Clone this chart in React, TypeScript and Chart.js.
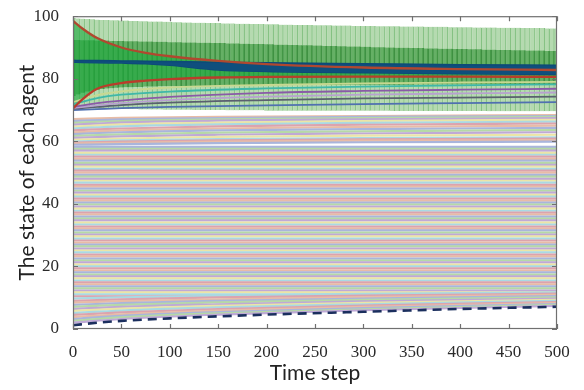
import { useEffect, useRef } from "react";
import { Chart, registerables } from "chart.js";

Chart.register(...registerables);

// ---------- axis ticks ----------
const xTicks = [0, 50, 100, 150, 200, 250, 300, 350, 400, 450, 500];
const yTicks = [0, 20, 40, 60, 80, 100];

// ---------- box plots of the upper group (one box every 5 time steps) ----------
const boxSteps = [
  0, 5, 10, 15, 20, 25, 30, 35, 40, 45, 50, 55, 60, 65, 70, 75, 80, 85, 90, 95, 100,
  105, 110, 115, 120, 125, 130, 135, 140, 145, 150, 155, 160, 165, 170, 175, 180, 185, 190, 195, 200,
  205, 210, 215, 220, 225, 230, 235, 240, 245, 250, 255, 260, 265, 270, 275, 280, 285, 290, 295, 300,
  305, 310, 315, 320, 325, 330, 335, 340, 345, 350, 355, 360, 365, 370, 375, 380, 385, 390, 395, 400,
  405, 410, 415, 420, 425, 430, 435, 440, 445, 450, 455, 460, 465, 470, 475, 480, 485, 490, 495, 500,
];
const whiskerHigh = [
  99.4, 99.3, 99.2, 99.1, 99.0, 98.9, 98.8, 98.8, 98.7, 98.7, 98.6, 98.6, 98.5, 98.5, 98.4, 98.4, 98.3, 98.3, 98.3, 98.2, 98.2,
  98.1, 98.1, 98.0, 98.0, 97.9, 97.9, 97.9, 97.8, 97.8, 97.8, 97.7, 97.7, 97.7, 97.6, 97.6, 97.6, 97.5, 97.5, 97.5, 97.4,
  97.4, 97.4, 97.3, 97.3, 97.3, 97.2, 97.2, 97.2, 97.2, 97.1, 97.1, 97.1, 97.1, 97.0, 97.0, 97.0, 97.0, 96.9, 96.9, 96.9,
  96.9, 96.9, 96.8, 96.8, 96.8, 96.8, 96.8, 96.7, 96.7, 96.7, 96.7, 96.7, 96.6, 96.6, 96.6, 96.6, 96.6, 96.5, 96.5, 96.5,
  96.5, 96.5, 96.4, 96.4, 96.4, 96.4, 96.4, 96.3, 96.3, 96.3, 96.3, 96.3, 96.2, 96.2, 96.2, 96.2, 96.2, 96.1, 96.1, 96.1,
];
const boxQ3 = [
  92.4, 92.4, 92.3, 92.3, 92.3, 92.2, 92.2, 92.2, 92.1, 92.1, 92.1, 92.0, 92.0, 92.0, 91.9, 91.9, 91.9, 91.8, 91.8, 91.8, 91.7,
  91.7, 91.7, 91.6, 91.6, 91.6, 91.5, 91.5, 91.5, 91.4, 91.4, 91.4, 91.3, 91.3, 91.3, 91.2, 91.2, 91.1, 91.1, 91.1, 91.0,
  91.0, 90.9, 90.9, 90.9, 90.8, 90.8, 90.7, 90.7, 90.7, 90.6, 90.6, 90.5, 90.5, 90.5, 90.4, 90.4, 90.3, 90.3, 90.3, 90.2,
  90.2, 90.1, 90.1, 90.1, 90.0, 90.0, 89.9, 89.9, 89.9, 89.8, 89.8, 89.8, 89.7, 89.7, 89.7, 89.6, 89.6, 89.6, 89.5, 89.5,
  89.5, 89.4, 89.4, 89.4, 89.3, 89.3, 89.3, 89.2, 89.2, 89.2, 89.1, 89.1, 89.1, 89.0, 89.0, 89.0, 89.0, 88.9, 88.9, 88.9,
];
const boxQ1 = [
  74.5, 75.0, 75.5, 75.9, 76.2, 76.5, 76.7, 76.9, 77.0, 77.1, 77.2, 77.3, 77.3, 77.4, 77.4, 77.5, 77.5, 77.5, 77.6, 77.6, 77.6,
  77.6, 77.6, 77.7, 77.7, 77.7, 77.7, 77.7, 77.7, 77.8, 77.8, 77.8, 77.8, 77.8, 77.8, 77.8, 77.8, 77.9, 77.9, 77.9, 77.9,
  77.9, 77.9, 77.9, 77.9, 78.0, 78.0, 78.0, 78.0, 78.0, 78.0, 78.0, 78.0, 78.0, 78.0, 78.0, 78.1, 78.1, 78.1, 78.1, 78.1,
  78.1, 78.1, 78.1, 78.1, 78.1, 78.1, 78.1, 78.1, 78.1, 78.1, 78.2, 78.2, 78.2, 78.2, 78.2, 78.2, 78.2, 78.2, 78.2, 78.2,
  78.2, 78.2, 78.2, 78.2, 78.2, 78.2, 78.2, 78.2, 78.2, 78.2, 78.3, 78.3, 78.3, 78.3, 78.3, 78.3, 78.3, 78.3, 78.3, 78.3,
];
const whiskerLow = [
  70.6, 70.6, 70.5, 70.5, 70.5, 70.4, 70.4, 70.4, 70.4, 70.3, 70.3, 70.3, 70.3, 70.3, 70.2, 70.2, 70.2, 70.2, 70.2, 70.1, 70.1,
  70.1, 70.1, 70.1, 70.1, 70.0, 70.0, 70.0, 70.0, 70.0, 70.0, 70.0, 69.9, 69.9, 69.9, 69.9, 69.9, 69.9, 69.9, 69.9, 69.8,
  69.8, 69.8, 69.8, 69.8, 69.8, 69.8, 69.8, 69.8, 69.8, 69.8, 69.8, 69.8, 69.8, 69.8, 69.8, 69.8, 69.8, 69.8, 69.8, 69.8,
  69.8, 69.8, 69.8, 69.8, 69.8, 69.7, 69.7, 69.7, 69.7, 69.7, 69.7, 69.7, 69.7, 69.7, 69.7, 69.7, 69.7, 69.7, 69.7, 69.7,
  69.7, 69.7, 69.7, 69.7, 69.7, 69.6, 69.6, 69.6, 69.6, 69.6, 69.6, 69.6, 69.6, 69.6, 69.6, 69.6, 69.6, 69.6, 69.6, 69.6,
];

// ---------- converging core of the upper group ----------
const coreSteps = [0, 10, 25, 50, 75, 100, 150, 200, 300, 400, 500];
const redUpper = [98.5, 96.0, 93.0, 90.0, 88.3, 87.2, 85.7, 84.7, 83.6, 83.1, 82.8];
const redLower = [70.5, 73.5, 76.8, 78.6, 79.4, 79.9, 80.4, 80.6, 80.7, 80.7, 80.6];
const blueTop = [85.9, 85.8, 85.8, 85.7, 85.6, 85.5, 85.3, 85.1, 84.8, 84.5, 84.3];
const blueBottom = [85.3, 85.2, 85.1, 85.0, 84.8, 84.3, 82.8, 82.3, 81.9, 81.6, 81.4];

// agents of the upper group visible through the boxes
const upperSteps = [0, 25, 50, 100, 200, 300, 400, 500];
const upperAgents = [
  [72.5, 74.8, 76.0, 77.2, 78.0, 78.5, 78.8, 79.0],
  [71.8, 73.8, 74.9, 75.9, 76.9, 77.5, 77.9, 78.2],
  [71.0, 72.2, 73.0, 74.2, 75.5, 76.1, 76.5, 76.8],
  [70.6, 71.5, 72.2, 73.2, 74.3, 74.9, 75.3, 75.6],
  [70.4, 71.0, 71.6, 72.4, 73.2, 73.7, 74.0, 74.3],
  [70.0, 70.3, 70.6, 71.0, 71.5, 71.9, 72.2, 72.5],
];

// ---------- lower group of agents ----------
const fanSteps = [0, 50, 150, 300, 500];
const lowFanAgents = [
  [2.0, 3.2, 4.6, 6.0, 7.4],
  [2.6, 3.7, 5.0, 6.3, 7.7],
  [3.2, 4.2, 5.4, 6.7, 8.0],
  [3.8, 4.7, 5.9, 7.1, 8.3],
  [4.5, 5.3, 6.4, 7.5, 8.6],
  [5.1, 5.9, 6.9, 7.9, 9.0],
  [5.8, 6.5, 7.4, 8.4, 9.3],
  [6.4, 7.1, 7.9, 8.8, 9.7],
  [7.1, 7.7, 8.5, 9.3, 10.1],
  [7.7, 8.3, 9.0, 9.7, 10.5],
  [8.4, 8.9, 9.5, 10.2, 10.9],
  [9.0, 9.5, 10.1, 10.7, 11.3],
  [9.7, 10.1, 10.6, 11.2, 11.7],
];
const highFanAgents = [
  [58.9, 59.1, 59.4, 59.7, 59.9],
  [59.3, 59.5, 59.9, 60.2, 60.4],
  [59.6, 59.9, 60.3, 60.6, 60.9],
  [59.9, 60.3, 60.7, 61.0, 61.3],
  [60.5, 60.9, 61.4, 61.8, 62.1],
  [61.1, 61.6, 62.1, 62.5, 62.9],
  [61.7, 62.2, 62.8, 63.2, 63.6],
  [62.3, 62.9, 63.5, 63.9, 64.3],
  [62.9, 63.5, 64.1, 64.6, 65.0],
  [63.5, 64.1, 64.8, 65.3, 65.7],
  [64.1, 64.8, 65.4, 65.9, 66.3],
  [64.7, 65.4, 66.0, 66.5, 66.9],
  [65.3, 66.0, 66.6, 67.0, 67.4],
  [65.9, 66.5, 67.0, 67.4, 67.8],
  [66.5, 67.0, 67.4, 67.8, 68.1],
  [67.1, 67.5, 67.8, 68.1, 68.4],
];
const flatAgents = [
  10.4, 11.1, 11.7, 12.3, 13.0, 13.6, 14.3, 14.9, 15.5, 16.2, 16.8, 17.4, 18.1, 18.7, 19.4, 20.0,
  20.6, 21.3, 21.9, 22.5, 23.2, 23.8, 24.5, 25.1, 25.7, 26.4, 27.0, 27.6, 28.3, 28.9, 29.6, 30.2,
  30.8, 31.5, 32.1, 32.7, 33.4, 34.0, 34.7, 35.3, 35.9, 36.6, 37.2, 37.8, 38.5, 39.1, 39.8, 40.4,
  41.0, 41.7, 42.3, 42.9, 43.6, 44.2, 44.9, 45.5, 46.1, 46.8, 47.4, 48.0, 48.7, 49.3, 50.0, 50.6,
  51.2, 51.9, 52.5, 53.1, 53.8, 54.4, 55.1, 55.7, 56.3, 57.0, 57.6, 58.2,
];
const flatSpan = [0, 500];
const lowestSteps = [0, 25, 50, 100, 200, 300, 400, 500];
const lowestAgent = [1.2, 2.0, 2.6, 3.4, 4.6, 5.5, 6.4, 7.1];

// ---------- styles ----------
const pastel = ["#dca3ae", "#a9d9e3", "#ebe5a6", "#bfa9d6", "#b6d9a6", "#a9b5dc", "#e8bca6"];
const upperColors = ["#c8d890", "#3fb8a8", "#8a5aa8", "#b8a0d0", "#5a6070", "#5070b0"];
const tickFont = { family: "'Liberation Serif', 'Times New Roman', serif", size: 17 };
const titleFont = { family: "Lato, 'Open Sans', sans-serif", size: 21 };

const framePlugin = {
  id: "frame",
  afterDraw(chart: any) {
    const { ctx, chartArea: a, scales } = chart;
    const x = scales.x;
    const y = scales.y;
    ctx.save();
    ctx.strokeStyle = "#707070";
    ctx.lineWidth = 1.2;
    ctx.strokeRect(a.left + 0.5, a.top + 0.5, a.right - a.left - 1, a.bottom - a.top - 1);
    ctx.beginPath();
    xTicks.forEach((v) => {
      const px = Math.round(x.getPixelForValue(v)) + 0.5;
      ctx.moveTo(px, a.bottom);
      ctx.lineTo(px, a.bottom - 5);
      ctx.moveTo(px, a.top);
      ctx.lineTo(px, a.top + 5);
    });
    yTicks.forEach((v) => {
      const py = Math.round(y.getPixelForValue(v)) + 0.5;
      ctx.moveTo(a.left, py);
      ctx.lineTo(a.left + 5, py);
      ctx.moveTo(a.right, py);
      ctx.lineTo(a.right - 5, py);
    });
    ctx.stroke();
    ctx.restore();
  },
};

export default function App() {
  const ref = useRef<HTMLCanvasElement>(null);

  useEffect(() => {
    if (!ref.current) return;
    const line = (xs: number[], ys: number[], color: string, width: number, order: number, extra: any = {}) => ({
      type: "line",
      data: xs.map((t, i) => ({ x: t, y: ys[i] })),
      borderColor: color,
      borderWidth: width,
      pointRadius: 0,
      fill: false,
      order,
      ...extra,
    });

    const datasets: any[] = [];

    // lower group pastel lines
    flatAgents.forEach((v, i) => {
      datasets.push(line(flatSpan, [v, v], pastel[i % pastel.length], 2.2, 200));
    });
    lowFanAgents.forEach((a, i) => {
      datasets.push(line(fanSteps, a, pastel[(i + 3) % pastel.length], 2.2, 190, { cubicInterpolationMode: "monotone" }));
    });
    highFanAgents.forEach((a, i) => {
      datasets.push(line(fanSteps, a, pastel[(i + 5) % pastel.length], 2.2, 190, { cubicInterpolationMode: "monotone" }));
    });
    datasets.push(line(lowestSteps, lowestAgent, "#1b2f5e", 2.6, 180, { borderDash: [9, 6], cubicInterpolationMode: "monotone" }));

    // box plots
    datasets.push({
      type: "bar",
      data: boxSteps.map((t, i) => ({ x: t, y: [whiskerLow[i], whiskerHigh[i]] })),
      backgroundColor: "#b5dab0",
      borderColor: "#84c182",
      borderWidth: { left: 0, right: 1.3, top: 0, bottom: 0 },
      borderSkipped: false,
      grouped: false,
      barPercentage: 1,
      categoryPercentage: 1,
      order: 100,
    });
    datasets.push({
      type: "bar",
      data: boxSteps.map((t, i) => ({ x: t, y: [boxQ1[i], boxQ3[i]] })),
      backgroundColor: "rgba(70,160,72,0.72)",
      borderColor: "rgba(50,135,55,0.85)",
      borderWidth: { left: 0, right: 1.3, top: 0, bottom: 0 },
      borderSkipped: false,
      grouped: false,
      barPercentage: 1,
      categoryPercentage: 1,
      order: 95,
    });

    // converging core fill
    const coreTopIndex = datasets.length;
    datasets.push(line(coreSteps, redUpper, "rgba(0,0,0,0)", 0, 90, {
      fill: coreTopIndex + 1,
      backgroundColor: "rgba(25,168,60,0.6)",
      cubicInterpolationMode: "monotone",
    }));
    datasets.push(line(coreSteps, redLower, "rgba(0,0,0,0)", 0, 90, { cubicInterpolationMode: "monotone" }));

    // upper agents visible through boxes
    upperAgents.forEach((a, i) => {
      datasets.push(line(upperSteps, a, upperColors[i], 1.8, 80, { cubicInterpolationMode: "monotone" }));
    });

    // dark blue band
    const blueIndex = datasets.length;
    datasets.push(line(coreSteps, blueTop, "#0d4a78", 1.5, 70, {
      fill: blueIndex + 1,
      backgroundColor: "#0f4f7d",
      cubicInterpolationMode: "monotone",
    }));
    datasets.push(line(coreSteps, blueBottom, "#0d4a78", 1.5, 70, { cubicInterpolationMode: "monotone" }));

    // red lines
    datasets.push(line(coreSteps, redUpper, "#b0482f", 2.3, 60, { cubicInterpolationMode: "monotone" }));
    datasets.push(line(coreSteps, redLower, "#b93d2b", 2.3, 60, { cubicInterpolationMode: "monotone" }));

    const chart = new Chart(ref.current, {
      type: "line",
      data: { datasets },
      plugins: [framePlugin],
      options: {
        responsive: false,
        animation: false,
        devicePixelRatio: 1,
        events: [],
        layout: { padding: { left: 0, top: 15, right: 27, bottom: 0 } },
        plugins: { legend: { display: false }, tooltip: { enabled: false } },
        scales: {
          x: {
            type: "linear",
            min: 0,
            max: 500,
            offset: false,
            grid: { display: false, offset: false },
            border: { display: false },
            afterBuildTicks: (s: any) => {
              s.ticks = xTicks.map((v) => ({ value: v }));
            },
            ticks: { font: tickFont, color: "#2a2a2a", padding: 5, maxRotation: 0, autoSkip: false },
            title: {
              display: true,
              text: "Time step",
              font: titleFont,
              color: "#222",
              padding: { top: 0, bottom: 4 },
            },
            afterFit: (s: any) => {
              s.height = 61;
            },
          },
          y: {
            type: "linear",
            min: 0,
            max: 100,
            grid: { display: false },
            border: { display: false },
            afterBuildTicks: (s: any) => {
              s.ticks = yTicks.map((v) => ({ value: v }));
            },
            ticks: { font: tickFont, color: "#2a2a2a", padding: 6 },
            title: {
              display: true,
              text: "The state of each agent",
              font: titleFont,
              color: "#222",
              padding: { top: 15, bottom: 0 },
            },
            afterFit: (s: any) => {
              s.width = 73;
            },
          },
        },
      },
    } as any);

    return () => chart.destroy();
  }, []);

  return (
    <div style={{ position: "absolute", left: 0, top: 0, width: 584, height: 390, background: "#fff" }}>
      <canvas ref={ref} width={584} height={390} style={{ display: "block" }} />
    </div>
  );
}
